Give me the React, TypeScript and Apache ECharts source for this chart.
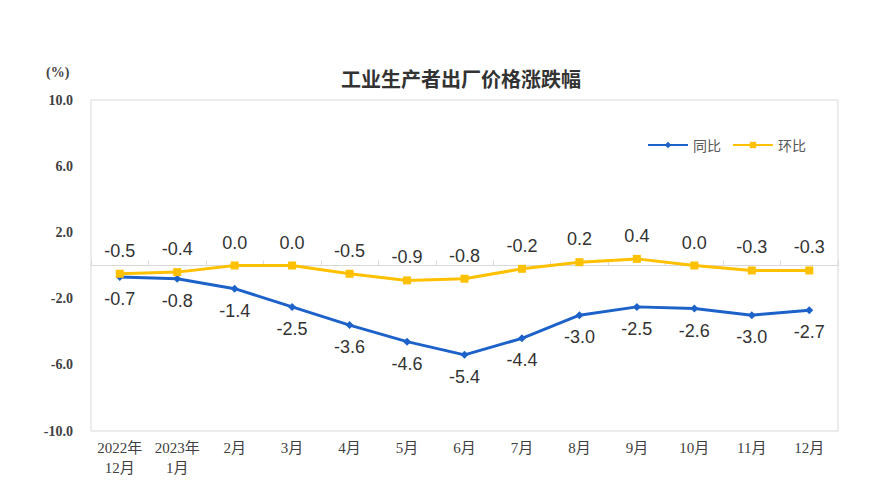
import React, { useEffect, useRef } from "react";
import * as echarts from "echarts";

const categories = ["2022年\n12月", "2023年\n1月", "2月", "3月", "4月", "5月", "6月", "7月", "8月", "9月", "10月", "11月", "12月"];
const yoy = [-0.7, -0.8, -1.4, -2.5, -3.6, -4.6, -5.4, -4.4, -3.0, -2.5, -2.6, -3.0, -2.7];
const mom = [-0.5, -0.4, 0.0, 0.0, -0.5, -0.9, -0.8, -0.2, 0.2, 0.4, 0.0, -0.3, -0.3];
const yTickLabels = [-10, -6, -2, 2, 6, 10];
const seriesNames = ["同比", "环比"];
const titleText = "工业生产者出厂价格涨跌幅";
const unitText = "(%)";

export default function App() {
  const ref = useRef<HTMLDivElement>(null);
  useEffect(() => {
    if (!ref.current) return;
    const chart = echarts.init(ref.current, undefined, { renderer: "svg" });
    const labelFont = { fontFamily: "Liberation Sans, Arial, sans-serif", fontSize: 18, color: "#333" };
    chart.setOption({
      animation: false,
      backgroundColor: "#fff",
      title: {
        text: titleText,
        left: 456,
        top: 63,
        textAlign: "center",
        textStyle: { fontFamily: "Noto Sans CJK SC", fontSize: 20, fontWeight: "bold", color: "#333" },
      },
      graphic: [
        {
          type: "text",
          left: 46,
          top: 65,
          style: { text: unitText, font: "bold 14px 'Liberation Serif', serif", fill: "#444" },
        },
      ],
      legend: {
        data: seriesNames,
        left: 642,
        top: 133,
        itemWidth: 40,
        itemHeight: 8,
        itemGap: 11,
        textStyle: { fontFamily: "Noto Sans CJK SC", fontSize: 14, color: "#595959" },
      },
      grid: {
        left: 91,
        right: 40,
        top: 100,
        bottom: 69,
        show: true,
        borderColor: "#d9d9d9",
        borderWidth: 1,
      },
      xAxis: [
        {
          type: "category",
          data: categories,
          boundaryGap: true,
          position: "bottom",
          axisLine: { show: false, onZero: false },
          axisTick: { show: false },
          axisLabel: {
            interval: 0,
            fontFamily: "Liberation Serif, Noto Sans CJK SC",
            fontSize: 15,
            color: "#404040",
            margin: 7,
            lineHeight: 20,
          },
        },
        {
          type: "category",
          data: categories,
          boundaryGap: true,
          position: "bottom",
          axisLine: { show: true, onZero: true, lineStyle: { color: "#d9d9d9", width: 1 } },
          axisTick: { show: true, inside: true, length: 5, lineStyle: { color: "#d9d9d9" } },
          axisLabel: { show: false },
        },
      ],
      yAxis: {
        type: "value",
        min: -10,
        max: 10,
        interval: 2,
        axisLine: { show: false },
        axisTick: { show: false },
        splitLine: { show: false },
        axisLabel: {
          margin: 18,
          fontFamily: "Liberation Serif, serif",
          fontSize: 14,
          fontWeight: "bold",
          color: "#404040",
          formatter: (v: number) => (yTickLabels.includes(Math.round(v)) ? v.toFixed(1) : ""),
        },
      },
      series: [
        {
          name: seriesNames[0],
          type: "line",
          data: yoy,
          color: "#1c62c9",
          lineStyle: { width: 3, color: "#1c62c9" },
          symbol: "diamond",
          symbolSize: 8,
          itemStyle: { color: "#1c62c9" },
          label: {
            show: true,
            position: "bottom",
            distance: 9,
            ...labelFont,
            formatter: (p: any) => Number(p.value).toFixed(1),
          },
          z: 3,
        },
        {
          name: seriesNames[1],
          type: "line",
          data: mom,
          color: "#ffc000",
          lineStyle: { width: 3, color: "#ffc000" },
          symbol: "rect",
          symbolSize: 8,
          itemStyle: { color: "#ffc000" },
          label: {
            show: true,
            position: "top",
            distance: 10,
            ...labelFont,
            formatter: (p: any) => Number(p.value).toFixed(1),
          },
          z: 4,
        },
      ],
    });
    return () => chart.dispose();
  }, []);
  return <div ref={ref} style={{ width: 878, height: 500, position: "absolute", left: 0, top: 0 }} />;
}
